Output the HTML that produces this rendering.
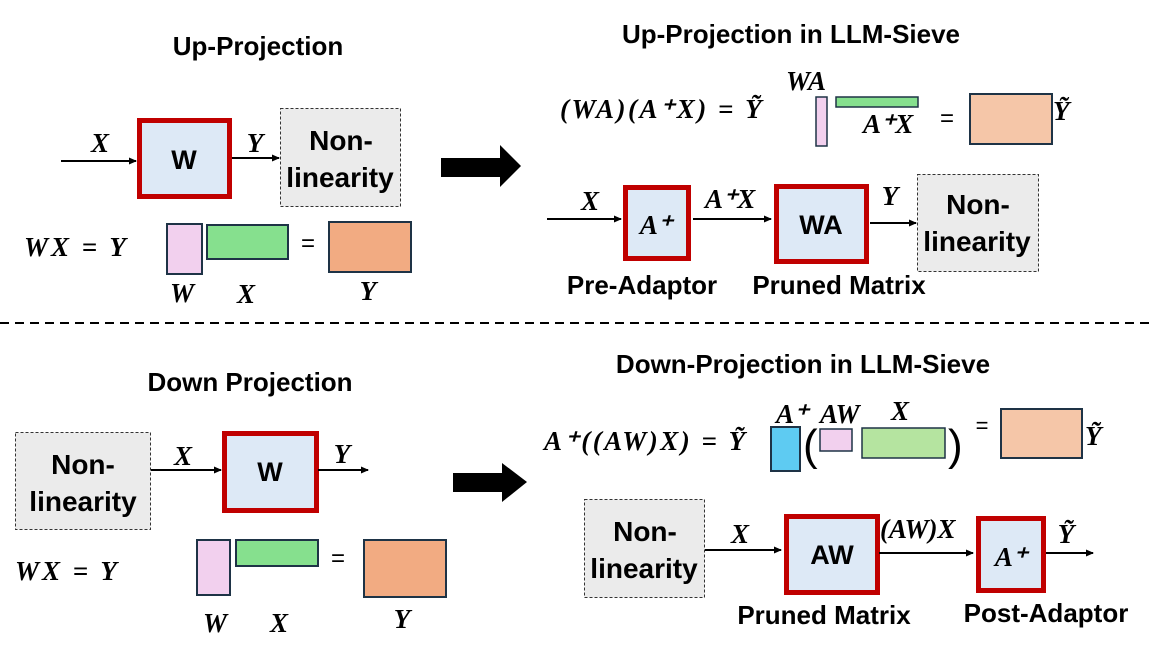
<!DOCTYPE html>
<html><head><meta charset="utf-8"><style>
html,body{margin:0;padding:0;background:#fff;width:1150px;height:647px;overflow:hidden}
svg text{font-family:"Liberation Sans",sans-serif}
.t{font-weight:bold;font-size:26px;fill:#000;text-anchor:middle}
.m{font-family:"Liberation Serif",serif!important;font-style:italic;font-weight:bold;font-size:27px;fill:#000}
.mc{text-anchor:middle}
.bx{font-weight:bold;font-size:27px;text-anchor:middle}
.nl{font-weight:bold;font-size:28px;text-anchor:middle}
</style></head><body>
<svg width="1150" height="647" viewBox="0 0 1150 647" xmlns="http://www.w3.org/2000/svg">
<defs><marker id="ah" markerWidth="8" markerHeight="8" refX="7" refY="4" orient="auto" markerUnits="userSpaceOnUse"><path d="M0,0.5 L8,4 L0,7.5z" fill="#000"/></marker></defs>

<!-- TOP LEFT -->
<text class="t" x="258" y="55">Up-Projection</text>
<line x1="61" y1="161" x2="136" y2="161" stroke="#000" stroke-width="2" marker-end="url(#ah)"/>
<text class="m mc" x="100" y="152">X</text>
<rect x="139.5" y="120.5" width="90" height="76" fill="#dde9f6" stroke="#c00000" stroke-width="5"/>
<text class="bx" x="184" y="169">W</text>
<line x1="232" y1="158" x2="279" y2="158" stroke="#000" stroke-width="2" marker-end="url(#ah)"/>
<text class="m mc" x="255" y="152">Y</text>
<rect x="280.5" y="108.5" width="120" height="98" fill="#ebebeb" stroke="#333" stroke-width="1" stroke-dasharray="3,2"/>
<text class="nl" x="341" y="150">Non-</text><text class="nl" x="340" y="187">linearity</text>
<path d="M441,158 H500 V145 L521,166 L500,187 V177 H441z" fill="#000"/>
<text class="m" x="24" y="256" font-size="30" letter-spacing="3">WX = Y</text>
<rect x="167" y="224" width="35" height="50" fill="#f2d0ee" stroke="#1e3346" stroke-width="2"/>
<rect x="207" y="225" width="81" height="34" fill="#86e08e" stroke="#1e3346" stroke-width="2"/>
<text x="308" y="251" font-size="24" text-anchor="middle">=</text>
<rect x="329" y="222" width="82" height="50" fill="#f2ab82" stroke="#1e3346" stroke-width="2"/>
<text class="m mc" x="182" y="302">W</text><text class="m mc" x="246" y="303">X</text><text class="m mc" x="368" y="300">Y</text>

<!-- TOP RIGHT -->
<text class="t" x="791" y="43">Up-Projection in LLM-Sieve</text>
<text class="m" x="560" y="118" font-size="29" letter-spacing="2.5">(WA)(A⁺X) = Ỹ</text>
<text class="m" x="786" y="90">WA</text>
<rect x="816" y="97" width="11" height="49" fill="#f2d0ee" stroke="#1e3346" stroke-width="1.5"/>
<rect x="836" y="97" width="82" height="10" fill="#86e08e" stroke="#1e3346" stroke-width="1.5"/>
<text class="m" x="863" y="133">A⁺X</text>
<text x="947" y="126" font-size="24" text-anchor="middle">=</text>
<rect x="970" y="94" width="82" height="50" fill="#f5c6a8" stroke="#1e3346" stroke-width="2"/>
<text class="m" x="1053" y="120">Ỹ</text>
<line x1="547" y1="219" x2="621" y2="219" stroke="#000" stroke-width="2" marker-end="url(#ah)"/>
<text class="m mc" x="590" y="210">X</text>
<rect x="625.5" y="187.5" width="63" height="71" fill="#dde9f6" stroke="#c00000" stroke-width="5"/>
<text class="m mc" x="656" y="234" font-size="29">A⁺</text>
<line x1="693" y1="219" x2="771" y2="219" stroke="#000" stroke-width="2" marker-end="url(#ah)"/>
<text class="m" x="705" y="208">A⁺X</text>
<rect x="776.5" y="186.5" width="90" height="75" fill="#dde9f6" stroke="#c00000" stroke-width="5"/>
<text class="bx" x="821" y="234">WA</text>
<line x1="870" y1="223" x2="916" y2="223" stroke="#000" stroke-width="2" marker-end="url(#ah)"/>
<text class="m mc" x="890" y="205" font-size="22">Y</text>
<rect x="917.5" y="174.5" width="121" height="97" fill="#ebebeb" stroke="#333" stroke-width="1" stroke-dasharray="3,2"/>
<text class="nl" x="978" y="214">Non-</text><text class="nl" x="977" y="251">linearity</text>
<text class="t" x="642" y="294">Pre-Adaptor</text>
<text class="t" x="839" y="294">Pruned Matrix</text>

<line x1="0" y1="323" x2="1150" y2="323" stroke="#000" stroke-width="2" stroke-dasharray="9,6"/>

<!-- BOTTOM LEFT -->
<text class="t" x="250" y="391">Down Projection</text>
<rect x="15.5" y="432.5" width="135" height="97" fill="#ebebeb" stroke="#333" stroke-width="1" stroke-dasharray="3,2"/>
<text class="nl" x="83" y="474">Non-</text><text class="nl" x="83" y="511">linearity</text>
<line x1="151" y1="470" x2="221" y2="470" stroke="#000" stroke-width="2" marker-end="url(#ah)"/>
<text class="m mc" x="183" y="465">X</text>
<rect x="224.5" y="433.5" width="92" height="77" fill="#dde9f6" stroke="#c00000" stroke-width="5"/>
<text class="bx" x="270" y="481">W</text>
<line x1="318" y1="470" x2="368" y2="470" stroke="#000" stroke-width="2" marker-end="url(#ah)"/>
<text class="m mc" x="342" y="463">Y</text>
<path d="M453,473 H502 V463 L527,482 L502,502 V492 H453z" fill="#000"/>
<text class="m" x="15" y="580" font-size="30" letter-spacing="3">WX = Y</text>
<rect x="197" y="540" width="33" height="55" fill="#f2d0ee" stroke="#1e3346" stroke-width="2"/>
<rect x="236" y="540" width="82" height="26" fill="#86e08e" stroke="#1e3346" stroke-width="2"/>
<text x="338" y="566" font-size="24" text-anchor="middle">=</text>
<rect x="364" y="540" width="82" height="57" fill="#f2ab82" stroke="#1e3346" stroke-width="2"/>
<text class="m mc" x="215" y="632">W</text><text class="m mc" x="279" y="632">X</text><text class="m mc" x="402" y="628">Y</text>

<!-- BOTTOM RIGHT -->
<text class="t" x="803" y="373">Down-Projection in LLM-Sieve</text>
<text class="m" x="544" y="450" font-size="29" letter-spacing="2.5">A⁺((AW)X) = Ỹ</text>
<text class="m" x="776" y="423">A⁺</text><text class="m" x="820" y="423">AW</text><text class="m" x="891" y="420">X</text>
<rect x="771" y="427" width="29" height="44" fill="#5ecbf2" stroke="#1e3346" stroke-width="2"/>
<text x="803" y="460" font-size="44" font-family="Liberation Sans">(</text>
<rect x="820" y="429" width="32" height="22" fill="#f2d0ee" stroke="#1e3346" stroke-width="1.5"/>
<rect x="862" y="428" width="83" height="30" fill="#b5e4a0" stroke="#1e3346" stroke-width="1.5"/>
<text x="948" y="460" font-size="44" font-family="Liberation Sans">)</text>
<text x="982" y="433" font-size="22" text-anchor="middle">=</text>
<rect x="1001" y="409" width="81" height="49" fill="#f5c6a8" stroke="#1e3346" stroke-width="2"/>
<text class="m" x="1085" y="445">Ỹ</text>
<rect x="584.5" y="499.5" width="120" height="98" fill="#ebebeb" stroke="#333" stroke-width="1" stroke-dasharray="3,2"/>
<text class="nl" x="645" y="541">Non-</text><text class="nl" x="644" y="578">linearity</text>
<line x1="705" y1="550" x2="781" y2="550" stroke="#000" stroke-width="2" marker-end="url(#ah)"/>
<text class="m mc" x="740" y="543">X</text>
<rect x="786.5" y="516.5" width="91" height="76" fill="#dde9f6" stroke="#c00000" stroke-width="5"/>
<text class="bx" x="832" y="564">AW</text>
<line x1="879" y1="553" x2="973" y2="553" stroke="#000" stroke-width="2" marker-end="url(#ah)"/>
<text class="m" x="880" y="538">(AW)X</text>
<rect x="978.5" y="518.5" width="65" height="72" fill="#dde9f6" stroke="#c00000" stroke-width="5"/>
<text class="m mc" x="1011" y="566" font-size="29">A⁺</text>
<line x1="1046" y1="553" x2="1093" y2="553" stroke="#000" stroke-width="2" marker-end="url(#ah)"/>
<text class="m mc" x="1066" y="543">Ỹ</text>
<text class="t" x="824" y="624">Pruned Matrix</text>
<text class="t" x="1046" y="622">Post-Adaptor</text>
</svg>
</body></html>
